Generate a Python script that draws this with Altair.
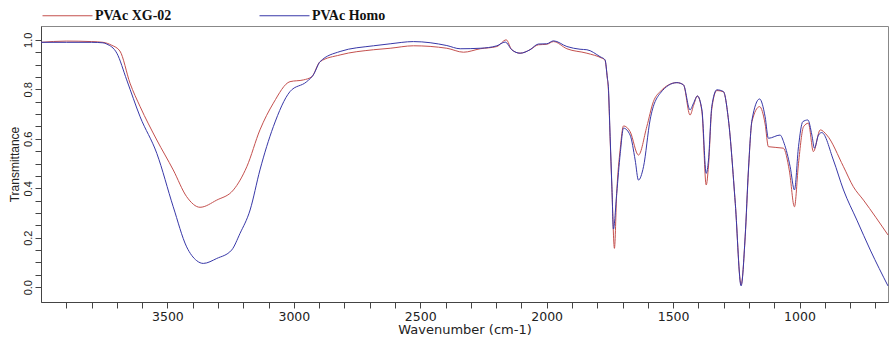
import altair as alt
import pandas as pd

series_names = ["PVAc XG-02", "PVAc Homo"]
series_colors = ["#c4504e", "#3838a8"]

xg_wavenumber = [4000, 3900, 3800, 3755, 3720, 3688, 3648, 3608, 3542, 3477, 3424, 3371, 3305,
                 3239, 3186, 3134, 3081, 3015, 2962, 2929, 2896, 2817, 2685, 2619, 2527, 2395,
                 2329, 2263, 2197, 2160, 2138, 2105, 2066, 2033, 2000, 1973, 1920, 1841, 1782,
                 1770, 1760, 1756, 1749, 1742, 1732, 1723, 1709, 1696, 1670, 1637, 1604, 1578,
                 1551, 1485, 1459, 1433, 1419, 1404, 1386, 1369, 1360, 1347, 1327, 1301, 1281,
                 1254, 1231, 1215, 1202, 1188, 1158, 1136, 1123, 1064, 1040, 1020, 1004, 984,
                 965, 945, 918, 892, 826, 787, 747, 650]
xg_transmittance = [0.99, 0.995, 0.993, 0.99, 0.978, 0.955, 0.825, 0.73, 0.595, 0.474, 0.366,
                    0.323, 0.352, 0.393, 0.487, 0.636, 0.744, 0.831, 0.838, 0.851, 0.912, 0.939,
                    0.96, 0.966, 0.976, 0.966, 0.95, 0.964, 0.973, 1.0, 0.96, 0.946, 0.96, 0.98,
                    0.982, 0.993, 0.964, 0.946, 0.926, 0.919, 0.845, 0.8, 0.6, 0.4, 0.157, 0.38,
                    0.56, 0.652, 0.629, 0.534, 0.649, 0.75, 0.791, 0.827, 0.818, 0.696, 0.735,
                    0.773, 0.71, 0.413, 0.49, 0.72, 0.795, 0.79, 0.676, 0.339, 0.01, 0.2, 0.47,
                    0.67, 0.73, 0.66, 0.568, 0.562, 0.47, 0.325, 0.5, 0.649, 0.663, 0.548, 0.636,
                    0.615, 0.487, 0.406, 0.352, 0.211]

homo_wavenumber = [4000, 3900, 3800, 3755, 3740, 3700, 3661, 3608, 3542, 3477, 3424, 3384, 3358,
                   3305, 3246, 3213, 3173, 3134, 3081, 3015, 2949, 2923, 2896, 2817, 2685, 2619,
                   2527, 2395, 2342, 2263, 2197, 2164, 2138, 2105, 2066, 2033, 2000, 1973, 1920,
                   1868, 1841, 1789, 1769, 1760, 1756, 1749, 1742, 1736, 1723, 1709, 1696, 1670,
                   1650, 1637, 1617, 1591, 1551, 1485, 1459, 1433, 1419, 1404, 1386, 1369, 1360,
                   1347, 1327, 1301, 1281, 1254, 1231, 1215, 1202, 1188, 1158, 1136, 1123, 1077,
                   1061, 1037, 1020, 1004, 987, 967, 951, 941, 925, 912, 866, 826, 773, 720, 650]
homo_transmittance = [0.99, 0.99, 0.99, 0.988, 0.983, 0.946, 0.838, 0.689, 0.541, 0.325, 0.163,
                      0.107, 0.096, 0.116, 0.15, 0.217, 0.312, 0.474, 0.649, 0.791, 0.831, 0.858,
                      0.912, 0.953, 0.976, 0.984, 0.993, 0.977, 0.964, 0.966, 0.976, 0.991, 0.96,
                      0.946, 0.96, 0.983, 0.984, 0.996, 0.973, 0.962, 0.96, 0.932, 0.919, 0.845,
                      0.811, 0.609, 0.406, 0.235, 0.379, 0.541, 0.643, 0.615, 0.514, 0.433, 0.487,
                      0.676, 0.784, 0.827, 0.818, 0.717, 0.744, 0.773, 0.717, 0.46, 0.514, 0.73,
                      0.798, 0.791, 0.676, 0.339, 0.005, 0.204, 0.474, 0.676, 0.761, 0.689, 0.602,
                      0.615, 0.582, 0.487, 0.393, 0.568, 0.669, 0.676, 0.615, 0.562, 0.615, 0.625,
                      0.514, 0.393, 0.271, 0.15, 0.005]

x_tick_values = list(range(3900, 600, -100))
y_tick_values = [round(i * 0.05, 2) for i in range(21)]

df = pd.concat([
    pd.DataFrame({"wavenumber": xg_wavenumber, "transmittance": xg_transmittance, "series": series_names[0]}),
    pd.DataFrame({"wavenumber": homo_wavenumber, "transmittance": homo_transmittance, "series": series_names[1]}),
], ignore_index=True)

x_enc = alt.X(
    "wavenumber:Q",
    scale=alt.Scale(domain=[650, 4000], reverse=True, nice=False, zero=False),
    axis=alt.Axis(
        values=x_tick_values,
        labelExpr="datum.value % 500 == 0 ? format(datum.value, 'd') : ''",
        labelOverlap=False, labelFlush=False,
        labelFont="DejaVu Sans", labelFontSize=12.5, labelColor="#222", labelPadding=2,
        tickSize=6, tickColor="#444", domainColor="#444", grid=False,
        title="Wavenumber (cm-1)", titleFont="DejaVu Sans", titleFontSize=13,
        titleFontWeight="normal", titleColor="#222", titlePadding=1,
    ),
)
y_enc = alt.Y(
    "transmittance:Q",
    scale=alt.Scale(domain=[-0.06, 1.056], nice=False, zero=False),
    axis=alt.Axis(
        values=y_tick_values,
        labelExpr="abs(datum.value * 5 - round(datum.value * 5)) < 0.001 ? format(datum.value, '.1f') : ''",
        labelOverlap=False, labelFlush=False,
        labelAngle=270, labelAlign="center", labelBaseline="bottom",
        labelFont="Liberation Sans", labelFontSize=11, labelColor="#222", labelPadding=2,
        tickSize=6, tickColor="#444", domainColor="#444", grid=False,
        title="Transmittance", titleFont="Liberation Sans", titleFontSize=12,
        titleFontWeight="normal", titleColor="#222", titlePadding=1,
    ),
)
color_enc = alt.Color(
    "series:N",
    scale=alt.Scale(domain=series_names, range=series_colors),
    legend=alt.Legend(
        orient="none", legendX=1, legendY=-36, direction="horizontal", title=None,
        symbolType="stroke", symbolSize=2500, symbolStrokeWidth=1,
        labelFont="Liberation Serif", labelFontSize=14, labelFontWeight="bold",
        labelColor="#111", labelOffset=2, columnPadding=85, padding=0,
    ),
)

base = alt.Chart(df).mark_line(strokeWidth=1, interpolate="monotone").encode(
    x=x_enc, y=y_enc, color=color_enc
)
red = base.transform_filter(alt.datum.series == series_names[0])
blue = base.transform_filter(alt.datum.series == series_names[1])

chart = alt.layer(red, blue).properties(
    width=847, height=276,
    autosize=alt.AutoSizeParams(type="none"),
    padding={"left": 41, "top": 26, "right": 1, "bottom": 38},
    background="white",
).configure_view(stroke="#888", strokeWidth=1)

chart.save("out.html", embed_options={"renderer": "svg", "actions": False})
